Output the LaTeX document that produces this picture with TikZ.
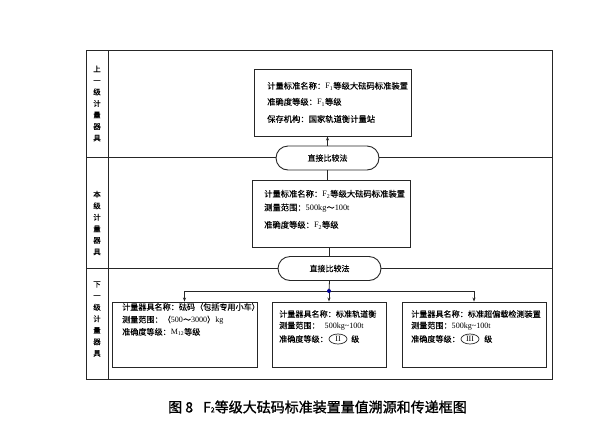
\documentclass[tikz,border=0pt]{standalone}
\usepackage{fontspec}
\setmainfont{Liberation Serif}
\newfontfamily\cjk{Noto Sans CJK SC}[FakeBold=0.25]
\newfontfamily\cjkcap{Noto Sans CJK SC}[FakeBold=1.2]
\usetikzlibrary{arrows.meta,shapes.geometric}
\newcommand{\zh}[1]{{\cjk #1}}
\begin{document}
\begin{tikzpicture}[x=1pt,y=-1pt,
  ln/.style={line width=0.8pt,draw=black!85},
  bx/.style={draw=black!85,line width=0.9pt,fill=white,inner sep=0pt},
  stad/.style={draw=black!85,line width=0.9pt,fill=white,rounded corners=12pt,minimum width=103pt,minimum height=24pt,inner sep=0pt,font=\cjk\fontsize{8}{9}\selectfont},
  txa/.style={anchor=west,inner sep=0pt,font=\fontsize{8.3}{9}\selectfont},
  txb/.style={anchor=west,inner sep=0pt,font=\fontsize{8.1}{9}\selectfont},
  vlab/.style={inner sep=0pt,align=center,font=\cjk\fontsize{7.5}{11.5}\selectfont},
  arr/.style={ln,-{Stealth[length=4pt,width=3pt]}},
  ell/.style={draw=black!85,line width=0.7pt,ellipse,minimum width=18pt,minimum height=10pt,inner sep=0pt,font=\fontsize{8}{9}\selectfont}
]
\useasboundingbox (0,0) rectangle (596,421);
% frame
\draw[ln] (86,50) rectangle (552,379);
\draw[ln] (108,50) -- (108,379);
\draw[ln] (86,157) -- (552,157);
\draw[ln] (86,268) -- (552,268);
% row labels
\node[vlab] (l1) at (97,103.5) {上\\一\\级\\计\\量\\器\\具};
\node[vlab] (l2) at (97,223) {本\\级\\计\\量\\器\\具};
\node[vlab] (l3) at (97,319) {下\\一\\级\\计\\量\\器\\具};
% boxes
\node[bx,minimum width=157pt,minimum height=67pt] (b1) at (332.5,102.5) {};
\node[bx,minimum width=158pt,minimum height=67pt] (b2) at (331,213.5) {};
\node[bx,minimum width=145pt,minimum height=65pt] (ba) at (184.5,334.5) {};
\node[bx,minimum width=114pt,minimum height=65pt] (bb) at (329,334.5) {};
\node[bx,minimum width=144pt,minimum height=65pt] (bc) at (474,334.5) {};
\node[stad] (s1) at (327.5,158) {直接比较法};
\node[stad] (s2) at (329.5,268.5) {直接比较法};
% box 1 text
\node[txa] (t11) at (267,86) {\zh{计量标准名称：}F\textsubscript{1}\zh{等级大砝码标准装置}};
\node[txa] (t12) at (267,102) {\zh{准确度等级：}F\textsubscript{1}\zh{等级}};
\node[txa] (t13) at (267,119) {\zh{保存机构：国家轨道衡计量站}};
% box 2 text
\node[txa] (t21) at (264,194) {\zh{计量标准名称：}F\textsubscript{2}\zh{等级大砝码标准装置}};
\node[txa] (t22) at (264,208) {\zh{测量范围：}500kg\zh{～}100t};
\node[txa] (t23) at (264,225) {\zh{准确度等级：}F\textsubscript{2}\zh{等级}};
% box A
\node[txb] (ta1) at (122,307) {\zh{计量器具名称：砝码（包括专用小车）}};
\node[txb] (ta2) at (122,320) {\zh{测量范围：（}500\zh{～}3000\zh{）}kg};
\node[txb] (ta3) at (122,332) {\zh{准确度等级：}M\textsubscript{12}\zh{等级}};
% box B
\node[txb] (tb1) at (279,314) {\zh{计量器具名称：标准轨道衡}};
\node[txb] (tb2) at (279,326) {\zh{测量范围：}\hspace{5pt}500kg\textasciitilde100t};
\node[txb] (tb3) at (279,339) {\zh{准确度等级：}};
\node[ell] (eb) at (338,339) {II};
\node[txb] (tb4) at (351,339) {\zh{级}};
% box C
\node[txb] (tc1) at (411,314) {\zh{计量器具名称：标准超偏载检测装置}};
\node[txb] (tc2) at (411,326) {\zh{测量范围：}500kg\textasciitilde100t};
\node[txb] (tc3) at (411,339) {\zh{准确度等级：}};
\node[ell] (ec) at (470,339) {III};
\node[txb] (tc4) at (484,339) {\zh{级}};
% connectors
\draw[arr] (s1.north) -- (s1.north |- b1.south);
\draw[ln] (s1.south) -- (s1.south |- b2.north);
\draw[ln] (s2.south |- b2.south) -- (s2.north);
\coordinate (j) at (329,291);
\draw[ln] (s2.south) -- (j);
\draw[arr] (j) -| (ba.north);
\draw[arr] (j) -| (bc.north);
\draw[arr] (j) -- (bb.north);
\fill[blue!60!black] (j) circle (2pt);
% caption
\node[anchor=west,inner sep=0pt,font=\cjkcap\fontsize{14}{16}\selectfont] (cap) at (168,407) {图 8\hspace{10pt}F{\fontsize{7}{8}\selectfont 2}等级大砝码标准装置量值溯源和传递框图};
\end{tikzpicture}
\end{document}
